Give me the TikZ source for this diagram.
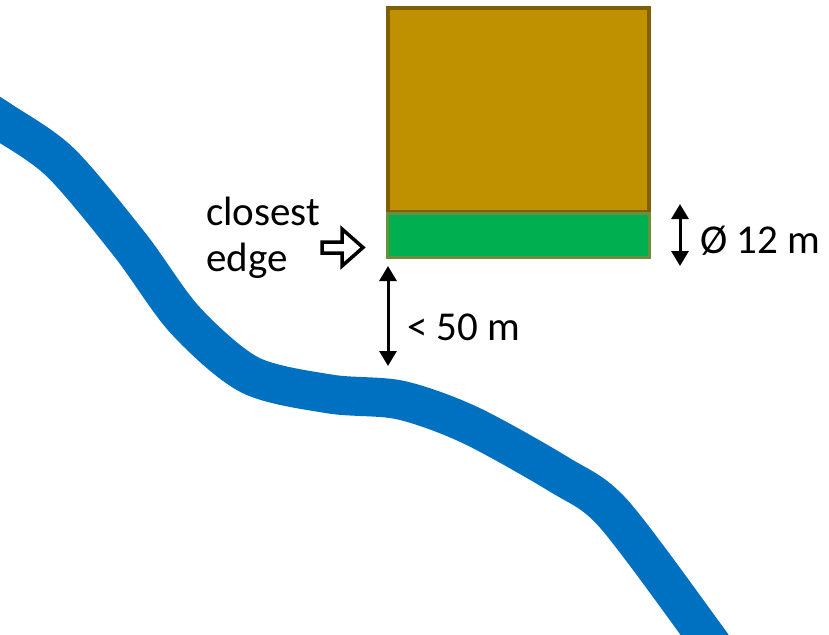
\documentclass[tikz,border=0pt]{standalone}
\usepackage{fontspec}
\setmainfont{Carlito}
\usetikzlibrary{arrows.meta}
\definecolor{riverblue}{HTML}{0070C0}
\definecolor{plotbrown}{HTML}{BF9000}
\definecolor{plotedge}{HTML}{7F6000}
\definecolor{buffergreen}{HTML}{00B050}
\definecolor{greenedge}{HTML}{6A8E3C}
\tikzset{
  lbl/.style={font=\fontsize{41}{49}\selectfont, inner sep=0pt, anchor=base west},
  dimarrow/.style={line width=3pt, {Triangle[length=15pt,width=17pt]}-{Triangle[length=15pt,width=17pt]}},
}
\begin{document}
\begin{tikzpicture}[x=1pt,y=-1pt]
\useasboundingbox (0,0) rectangle (829,634);
\begin{scope}
\clip (0,0) rectangle (829,634);
\draw[riverblue, line width=39pt] plot[smooth, tension=0.5] coordinates
  {(-30,101) (0,120) (60,162) (130,245) (185,320) (250,375) (330,394) (400,400) (470,425) (560,475) (613,513) (704,634) (730,672)};
\end{scope}
% plot and buffer
\draw[plotedge, fill=plotbrown, line width=4pt] (387.5,8.5) rectangle (649,212);
\draw[greenedge, fill=buffergreen, line width=3pt] (387.5,213) rectangle (649,257);
% block arrow
\draw[line width=3.5pt, fill=white, line join=miter]
  (322,242) -- (342,242) -- (342,229) -- (363,247.5) -- (342,266) -- (342,253) -- (322,253) -- cycle;
\node[lbl] (closest) at (206,225) {closest};
\node[lbl] (edge) at (206,271) {edge};
% dimension arrows
\coordinate (d1a) at (680,204);
\coordinate (d1b) at (680,266);
\draw[dimarrow] (d1a) -- (d1b);
\node[lbl] (diam) at (700,253) {Ø 12 m};
\coordinate (d2a) at (388,266);
\coordinate (d2b) at (388,366);
\draw[dimarrow] (d2a) -- (d2b);
\node[lbl] (dist) at (407,340) {< 50 m};
\end{tikzpicture}
\end{document}
